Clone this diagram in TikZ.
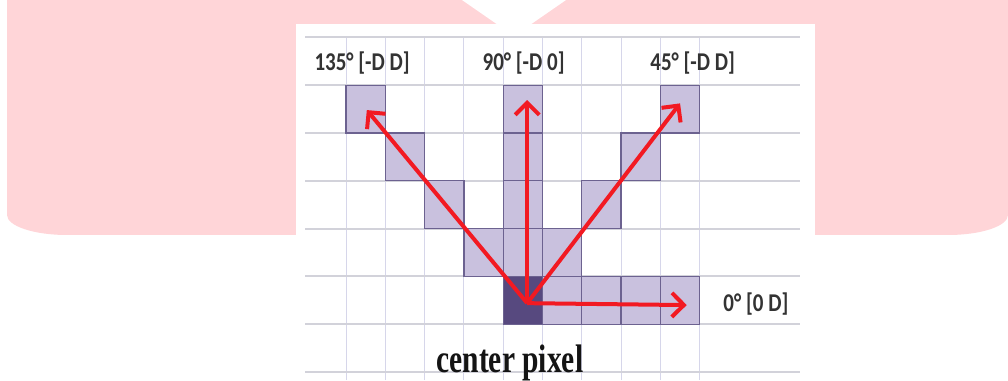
\documentclass[tikz,border=0pt]{standalone}
\usepackage{fontspec}
\usetikzlibrary{arrows.meta}
\newfontfamily\etiqfont{Carlito}
\newfontfamily\piefont{Liberation Serif}
\definecolor{rosa}{HTML}{FFD5D8}
\definecolor{rejillah}{HTML}{D2D2DA}
\definecolor{rejillav}{HTML}{D6D6EA}
\definecolor{celda}{HTML}{C9C1DE}
\definecolor{borde}{HTML}{6C6290}
\definecolor{centro}{HTML}{57497F}
\definecolor{rojo}{HTML}{F21A22}
\newcommand{\estira}[2]{\scalebox{1}[#1]{#2}}
\tikzset{
  lineah/.style={rejillah, line width=2pt},
  lineav/.style={rejillav, line width=0.9pt},
  celdapix/.style={draw=borde, fill=celda, line width=1.3pt},
  flecha/.style={rojo, line width=4pt, -{Straight Barb[length=12pt,width=24pt]}},
  etiq/.style={inner sep=0pt, text=black!80, font=\etiqfont\bfseries\fontsize{21}{21}\selectfont},
  pie/.style={inner sep=0pt, text=black!92, font=\piefont\bfseries\fontsize{29.5}{30}\selectfont},
}
\begin{document}
\begin{tikzpicture}[x=1pt, y=1pt]
    % Fondo
    \fill[white] (0,0) rectangle (1008,380);
    \useasboundingbox (0,0) rectangle (1008,380);
    \fill[rosa] (7,380) -- (7,165) arc[start angle=180, end angle=270, x radius=60, y radius=20]
        -- (948,145) arc[start angle=270, end angle=360, x radius=60, y radius=20] -- (1008,380) -- cycle;
    \fill[white] (462,380) -- (566,380) -- (514,344) -- cycle;
    \fill[white] (296,0) rectangle (815,356);
    \begin{scope}[shift={(346,8)}, x=39.3pt, y=47.8pt]
        % Rejilla
        \foreach \i in {0,...,9}
            \draw[lineav] (\i,-0.17) -- (\i,7);
        \foreach \j in {0,...,7}
            \draw[lineah] (-1.04,\j) -- (11.55,\j);
        % Celdas
        \foreach \c/\r in {5/1,6/1,7/1,8/1, 3/2,2/3,1/4,0/5, 4/2,4/3,4/4,4/5, 5/2,6/3,7/4,8/5}
            \draw[celdapix] (\c,\r) rectangle ++(1,1);
        \draw[celdapix, fill=centro] (4,1) rectangle ++(1,1);
        % Flechas
        \coordinate (c) at (4.61,1.44);
        \coordinate (d135) at (0.53,5.48);
        \coordinate (d90) at (4.61,5.69);
        \coordinate (d45) at (8.5,5.62);
        \coordinate (d0) at (8.67,1.4);
        \draw[flecha] (c) -- (d135);
        \draw[flecha] (c) -- (d90);
        \draw[flecha] (c) -- (d45);
        \draw[flecha] (c) -- (d0);
        % Etiquetas
        \node[etiq] (l135) at (0.41,6.47) {\estira{1.22}{135° [-D D]}};
        \node[etiq] (l90) at (4.52,6.47) {\estira{1.22}{90° [-D 0]}};
        \node[etiq] (l45) at (8.82,6.47) {\estira{1.22}{45° [-D D]}};
        \node[etiq] (l0) at (10.43,1.42) {\estira{1.22}{0° [0 D]}};
        \node[pie, anchor=base] (pie) at (4.17,-0.02) {\estira{1.35}{center pixel}};
    \end{scope}
\end{tikzpicture}
\end{document}
